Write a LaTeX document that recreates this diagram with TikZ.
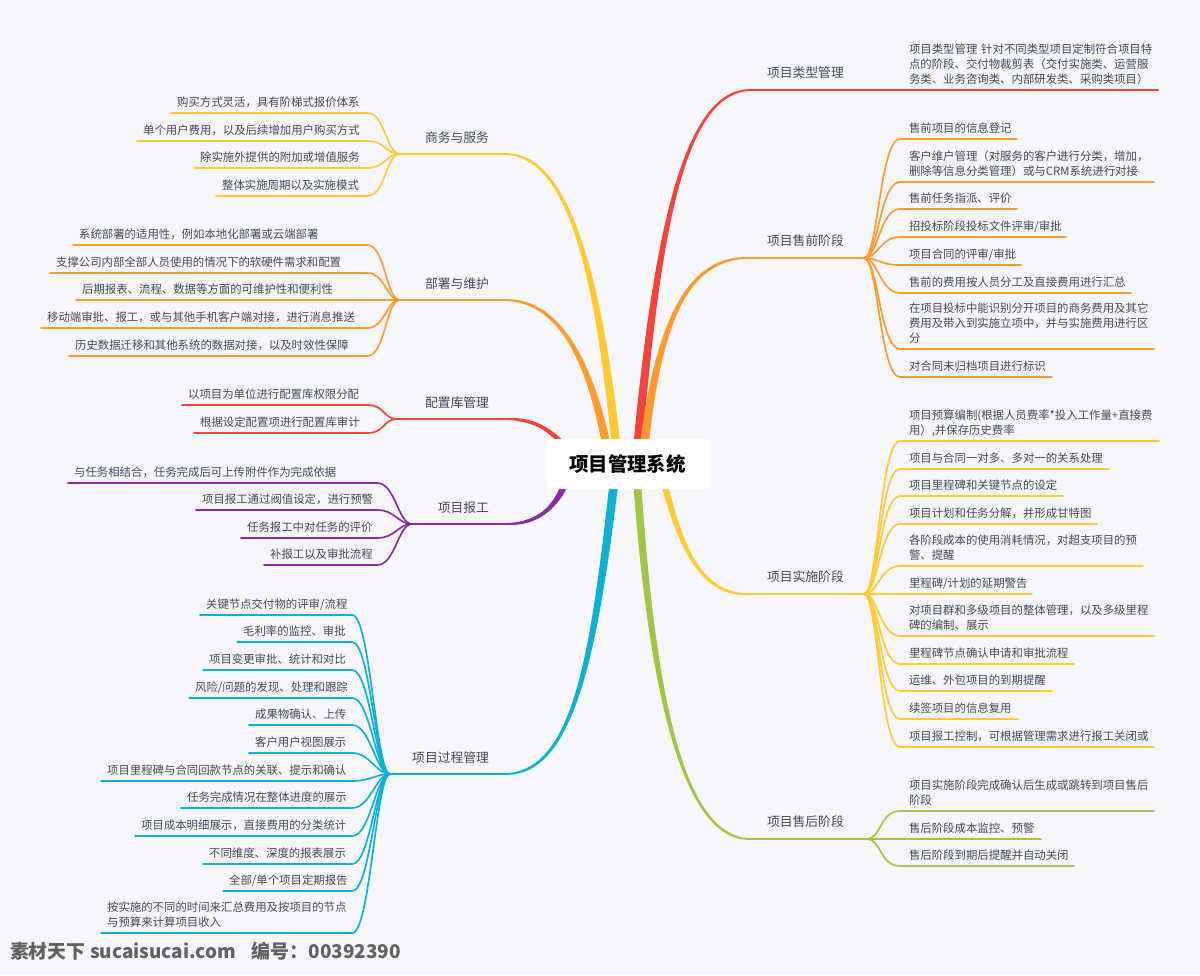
\documentclass[tikz,border=0pt]{standalone}
\usepackage{fontspec}
\setmainfont{Noto Sans CJK SC}
\usetikzlibrary{calc}
\pgfdeclarelayer{bg}
\pgfsetlayers{bg,main}
\definecolor{paper}{HTML}{F6F6FB}
\definecolor{ink}{HTML}{414B5A}
\definecolor{cred}{HTML}{F4433C}
\definecolor{corange}{HTML}{FF9A2E}
\definecolor{cyellow}{HTML}{FFC933}
\definecolor{cpurple}{HTML}{8A2BA0}
\definecolor{ccyan}{HTML}{0DB1D4}
\definecolor{cgreen}{HTML}{A2C547}
\tikzset{
  leaf/.style={outer sep=0pt,inner ysep=1.2pt,align=left,text=ink,
    font=\fontsize{8.55pt}{11.25pt}\selectfont,execute at end node=\strut},
  branchlabel/.style={outer sep=0pt,inner sep=0pt,text=ink,text height=7.6pt,text depth=2pt,
    font=\fontsize{9.6pt}{11.5pt}\selectfont},
  rootbox/.style={fill=white,rounded corners=4pt,minimum width=122.25pt,minimum height=37.5pt,
    inner sep=0pt,outer sep=0pt,font=\fontsize{14.55pt}{17pt}\selectfont\bfseries,text=black},
  conn/.style={draw=#1,line width=1.25pt,line cap=round},
  stamp/.style={inner sep=0pt,outer sep=0pt,text=black!62,
    font=\fontsize{14.2pt}{17pt}\selectfont\bfseries}
}
% right-hand leaf: name, colour, hub, x0, x1, y, text
\newcommand\rleaf[7]{%
  \node[leaf,anchor=south west,inner xsep=6.75pt,
    text width=\the\dimexpr 0.75pt*\numexpr #5-#4-18\relax\relax] (#1) at (#4,#6) {#7};
  \draw[conn=#2] (#3) .. controls +(14,0) and +(-20,0) .. (#1.south west) -- (#1.south east);}
% left-hand leaf: name, colour, hub, x0, x1, y, text
\newcommand\lleaf[7]{%
  \node[leaf,anchor=south west,inner xsep=4.6pt,
    text width=\the\dimexpr 0.75pt*\numexpr #5-#4-13\relax\relax] (#1) at (#4,#6) {#7};
  \draw[conn=#2] (#3) .. controls +(-14,0) and +(18,0) .. (#1.south east) -- (#1.south west);}
% tapered main branch: colour, root dx, root dy, half width, P1, P2, end, side
\newcommand\taper[8]{%
  \fill[#1] ($(root.center)+(#2-#4,#3)$)
    .. controls ($(#5)+(-#4*0.85,0)$) and ($(#6)+(0,#8*2.8)$) .. ($(#7)+(0,#8*0.8)$)
    -- ($(#7)+(0,-#8*0.8)$)
    .. controls ($(#6)+(0,-#8*2.8)$) and ($(#5)+(#4*0.85,0)$) .. ($(root.center)+(#2+#4,#3)$) -- cycle;}
\begin{document}
\begin{tikzpicture}[x=0.75pt,y=-0.75pt]
\useasboundingbox (0,0) rectangle (1200,975);
\begin{pgfonlayer}{bg}
  \fill[paper] (0,0) rectangle (1200,975);
\end{pgfonlayer}
\node[rootbox] (root) at (627.5,464) {项目管理系统};

% ---------- right side ----------
\node[branchlabel,anchor=west] (b1) at (767,74) {项目类型管理};
\coordinate (b1s) at (751,90);
\node[leaf,anchor=south west,inner xsep=6.75pt,text width=180pt] (r11) at (900,90)
  {\mbox{项目类型管理 针对不同类型项目定制符合项目特}\\点的阶段、交付物裁剪表（交付实施类、运营服\\务类、业务咨询类、内部研发类、采购类项目）};
\draw[conn=cred] (b1s) -- (r11.south west) -- (r11.south east);

\node[branchlabel,anchor=west] (b2) at (767,242) {项目售前阶段};
\coordinate (b2s) at (747,258);
\coordinate (b2h) at (864,258);
\draw[conn=corange] (b2s) -- (b2h);
\rleaf{r21}{corange}{b2h}{900}{1017}{139}{售前项目的信息登记}
\rleaf{r22}{corange}{b2h}{900}{1154}{182}{客户维户管理（对服务的客户进行分类，增加，\\删除等信息分类管理）或与CRM系统进行对接}
\rleaf{r23}{corange}{b2h}{900}{1017}{209}{售前任务指派、评价}
\rleaf{r24}{corange}{b2h}{900}{1066}{237}{招投标阶段投标文件评审/审批}
\rleaf{r25}{corange}{b2h}{900}{1021}{265}{项目合同的评审/审批}
\rleaf{r26}{corange}{b2h}{900}{1131}{293}{售前的费用按人员分工及直接费用进行汇总}
\rleaf{r27}{corange}{b2h}{900}{1154}{349}{在项目投标中能识别分开项目的商务费用及其它\\费用及带入到实施立项中，并与实施费用进行区\\分}
\rleaf{r28}{corange}{b2h}{900}{1052}{377}{对合同未归档项目进行标识}

\node[branchlabel,anchor=west] (b3) at (767,578) {项目实施阶段};
\coordinate (b3s) at (746,594);
\coordinate (b3h) at (864,594);
\draw[conn=cyellow] (b3s) -- (b3h);
\rleaf{r31}{cyellow}{b3h}{900}{1159}{441}{项目预算编制(根据人员费率*投入工作量+直接费\\用）,并保存历史费率}
\rleaf{r32}{cyellow}{b3h}{900}{1109}{469}{项目与合同一对多、多对一的关系处理}
\rleaf{r33}{cyellow}{b3h}{900}{1063}{496}{项目里程碑和关键节点的设定}
\rleaf{r34}{cyellow}{b3h}{900}{1097}{524}{项目计划和任务分解，并形成甘特图}
\rleaf{r35}{cyellow}{b3h}{900}{1143}{566}{各阶段成本的使用消耗情况，对超支项目的预\\警、提醒}
\rleaf{r36}{cyellow}{b3h}{900}{1032}{594}{里程碑/计划的延期警告}
\rleaf{r37}{cyellow}{b3h}{900}{1154}{636}{对项目群和多级项目的整体管理，以及多级里程\\碑的编制、展示}
\rleaf{r38}{cyellow}{b3h}{900}{1074}{664}{里程碑节点确认申请和审批流程}
\rleaf{r39}{cyellow}{b3h}{900}{1052}{691}{运维、外包项目的到期提醒}
\rleaf{r3a}{cyellow}{b3h}{900}{1018}{719}{续签项目的信息复用}
\rleaf{r3b}{cyellow}{b3h}{900}{1154}{747}{项目报工控制，可根据管理需求进行报工关闭或}

\node[branchlabel,anchor=west] (b4) at (767,823) {项目售后阶段};
\coordinate (b4s) at (750,839);
\coordinate (b4h) at (867,839);
\draw[conn=cgreen] (b4s) -- (b4h);
\rleaf{r41}{cgreen}{b4h}{900}{1154}{811}{项目实施阶段完成确认后生成或跳转到项目售后\\阶段}
\rleaf{r42}{cgreen}{b4h}{900}{1041}{839}{售后阶段成本监控、预警}
\rleaf{r43}{cgreen}{b4h}{900}{1074}{866}{售后阶段到期后提醒并自动关闭}

% ---------- left side ----------
\node[branchlabel,anchor=east] (b5) at (489,139) {商务与服务};
\coordinate (b5s) at (505,154);
\coordinate (b5h) at (400,154);
\draw[conn=cyellow] (b5s) -- (b5h);
\lleaf{l51}{cyellow}{b5h}{171}{368}{113}{购买方式灵活，具有阶梯式报价体系}
\lleaf{l52}{cyellow}{b5h}{137}{368}{141}{单个用户费用，以及后续增加用户购买方式}
\lleaf{l53}{cyellow}{b5h}{194}{368}{168}{除实施外提供的附加或增值服务}
\lleaf{l54}{cyellow}{b5h}{216}{368}{196}{整体实施周期以及实施模式}

\node[branchlabel,anchor=east] (b6) at (489,285) {部署与维护};
\coordinate (b6s) at (505,300);
\coordinate (b6h) at (400,300);
\draw[conn=corange] (b6s) -- (b6h);
\lleaf{l61}{corange}{b6h}{73}{368}{245}{系统部署的适用性，例如本地化部署或云端部署}
\lleaf{l62}{corange}{b6h}{50}{368}{273}{支撑公司内部全部人员使用的情况下的软硬件需求和配置}
\lleaf{l63}{corange}{b6h}{76}{368}{300}{后期报表、流程、数据等方面的可维护性和便利性}
\lleaf{l64}{corange}{b6h}{41}{368}{328}{移动端审批、报工，或与其他手机客户端对接，进行消息推送}
\lleaf{l65}{corange}{b6h}{69}{368}{356}{历史数据迁移和其他系统的数据对接，以及时效性保障}

\node[branchlabel,anchor=east] (b7) at (489,404) {配置库管理};
\coordinate (b7s) at (507,419);
\coordinate (b7h) at (397,419);
\draw[conn=cred] (b7s) -- (b7h);
\lleaf{l71}{cred}{b7h}{182}{368}{405}{以项目为单位进行配置库权限分配}
\lleaf{l72}{cred}{b7h}{194}{368}{433}{根据设定配置项进行配置库审计}

\node[branchlabel,anchor=east] (b8) at (489,509) {项目报工};
\coordinate (b8s) at (507,524);
\coordinate (b8h) at (412,524);
\draw[conn=cpurple] (b8s) -- (b8h);
\lleaf{l81}{cpurple}{b8h}{68}{378}{483}{与任务相结合，任务完成后可上传附件作为完成依据}
\lleaf{l82}{cpurple}{b8h}{196}{378}{510}{项目报工通过阀值设定，进行预警}
\lleaf{l83}{cpurple}{b8h}{241}{378}{538}{任务报工中对任务的评价}
\lleaf{l84}{cpurple}{b8h}{264}{378}{565}{补报工以及审批流程}

\node[branchlabel,anchor=east] (b9) at (489,759) {项目过程管理};
\coordinate (b9s) at (505,774);
\coordinate (b9h) at (390,774);
\draw[conn=ccyan] (b9s) -- (b9h);
\lleaf{l91}{ccyan}{b9h}{200}{353}{615}{关键节点交付物的评审/流程}
\lleaf{l92}{ccyan}{b9h}{237}{353}{642}{毛利率的监控、审批}
\lleaf{l93}{ccyan}{b9h}{203}{353}{670}{项目变更审批、统计和对比}
\lleaf{l94}{ccyan}{b9h}{189}{353}{698}{风险/问题的发现、处理和跟踪}
\lleaf{l95}{ccyan}{b9h}{249}{353}{725}{成果物确认、上传}
\lleaf{l96}{ccyan}{b9h}{249}{353}{753}{客户用户视图展示}
\lleaf{l97}{ccyan}{b9h}{101}{353}{781}{项目里程碑与合同回款节点的关联、提示和确认}
\lleaf{l98}{ccyan}{b9h}{181}{353}{808}{任务完成情况在整体进度的展示}
\lleaf{l99}{ccyan}{b9h}{135}{353}{836}{项目成本明细展示，直接费用的分类统计}
\lleaf{l9a}{ccyan}{b9h}{203}{353}{864}{不同维度、深度的报表展示}
\lleaf{l9b}{ccyan}{b9h}{223}{353}{891}{全部/单个项目定期报告}
\lleaf{l9c}{ccyan}{b9h}{101}{353}{933}{按实施的不同的时间来汇总费用及按项目的节点\\与预算来计算项目收入}

\node[stamp,anchor=west] (wm) at (10,951) {素材天下 sucaisucai.com\hspace{12pt}编号：00392390};

% ---------- tapered main branches ----------
\begin{pgfonlayer}{bg}
  \taper{cred}{8.5}{1}{4.5}{655,250}{680,90}{b1s}{-1}
  \taper{corange}{14.5}{1}{4.5}{655,340}{680,258}{b2s}{-1}
  \taper{cyellow}{32.5}{1}{3.5}{678,545}{700,594}{b3s}{1}
  \taper{cgreen}{8.5}{1}{4}{650,680}{680,839}{b4s}{1}
  \taper{cyellow}{-9.5}{1}{4.5}{600,280}{570,154}{b5s}{1}
  \taper{corange}{-17.5}{1}{4.5}{595,375}{565,300}{b6s}{1}
  \taper{cred}{-52.5}{-4}{4}{555,430}{535,419}{b7s}{1}
  \taper{cpurple}{-57.5}{6}{4}{560,505}{540,524}{b8s}{-1}
  \taper{ccyan}{-11.5}{1}{4.5}{595,650}{575,774}{b9s}{-1}
\end{pgfonlayer}
\end{tikzpicture}
\end{document}
